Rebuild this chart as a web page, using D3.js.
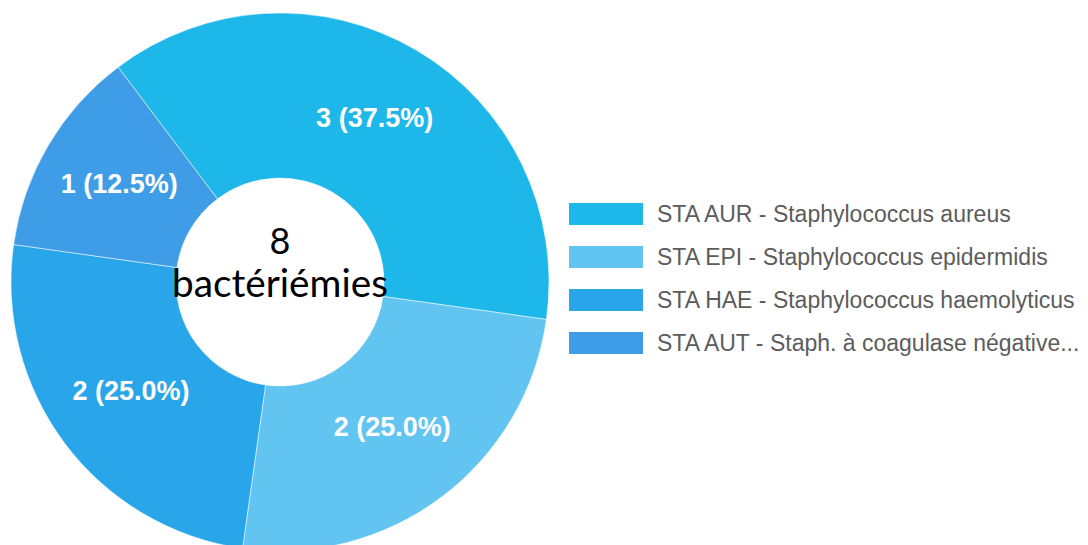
<!DOCTYPE html>
<html>
<head>
<meta charset="utf-8">
<script src="https://cdn.jsdelivr.net/npm/d3@7"></script>
<style>
  html, body { margin: 0; padding: 0; background: #ffffff; }
  svg { display: block; }
</style>
</head>
<body>
<svg id="chart" width="1088" height="545"></svg>
<script>
// Bacteraemia counts by organism
const codes = ["STA AUR", "STA EPI", "STA HAE", "STA AUT"];
const names = ["Staphylococcus aureus", "Staphylococcus epidermidis", "Staphylococcus haemolyticus", "Staph. à coagulase négative..."];
const counts = [3, 2, 2, 1];
const colors = ["#1db7ea", "#62c4f0", "#29a6e9", "#3f9de8"];
const centerLines = ["8", "bactériémies"];

const svg = d3.select("#chart");
const cx = 280, cy = 282, outerR = 269, innerR = 104;
const total = d3.sum(counts);
const startDeg = -37;

const pie = d3.pie()
  .value(d => d)
  .sort(null)
  .startAngle(startDeg * Math.PI / 180)
  .endAngle((startDeg + 360) * Math.PI / 180);

const arc = d3.arc().innerRadius(innerR).outerRadius(outerR);
const arcs = pie(counts);

const g = svg.append("g").attr("transform", `translate(${cx},${cy})`);

g.selectAll("path.slice")
  .data(arcs)
  .enter().append("path")
  .attr("class", "slice")
  .attr("d", arc)
  .attr("fill", (d, i) => colors[i])
  .attr("stroke", "#ffffff")
  .attr("stroke-opacity", 0.5)
  .attr("stroke-width", 1);

// value labels at slice centroids
g.selectAll("text.val")
  .data(arcs)
  .enter().append("text")
  .attr("class", "val")
  .attr("transform", d => `translate(${arc.centroid(d)})`)
  .attr("text-anchor", "middle")
  .attr("dy", "0.2em")
  .attr("fill", "#ffffff")
  .attr("font-family", "Arial, 'Liberation Sans', sans-serif")
  .attr("font-weight", "bold")
  .attr("font-size", 27)
  .text(d => `${d.value} (${(d.value / total * 100).toFixed(1)}%)`);

// centre caption
const cap = g.append("g").attr("font-family", "Lato, 'Open Sans', sans-serif").attr("fill", "#000000");
cap.append("text").attr("text-anchor", "middle").attr("x", 0).attr("y", -28)
  .attr("font-size", 36).text(centerLines[0]);
const word = cap.append("text").attr("text-anchor", "middle").attr("x", 0).attr("y", 15)
  .attr("font-size", 36).text(centerLines[1]);
const w = word.node().getComputedTextLength();
if (w > 0) word.attr("font-size", 36 * 216 / w);

// legend
const legend = svg.append("g").attr("transform", "translate(569,214)");
const rowStep = 43;
const rows = legend.selectAll("g.row")
  .data(codes)
  .enter().append("g")
  .attr("class", "row")
  .attr("transform", (d, i) => `translate(0,${i * rowStep})`);

rows.append("rect")
  .attr("x", 0).attr("y", -11)
  .attr("width", 74).attr("height", 22)
  .attr("fill", (d, i) => colors[i]);

rows.append("text")
  .attr("x", 88).attr("y", 0)
  .attr("dy", "0.36em")
  .attr("fill", "#5c5c5c")
  .attr("font-family", "Arial, 'Liberation Sans', sans-serif")
  .attr("font-size", 23)
  .text((d, i) => `${d} - ${names[i]}`);
</script>
</body>
</html>
